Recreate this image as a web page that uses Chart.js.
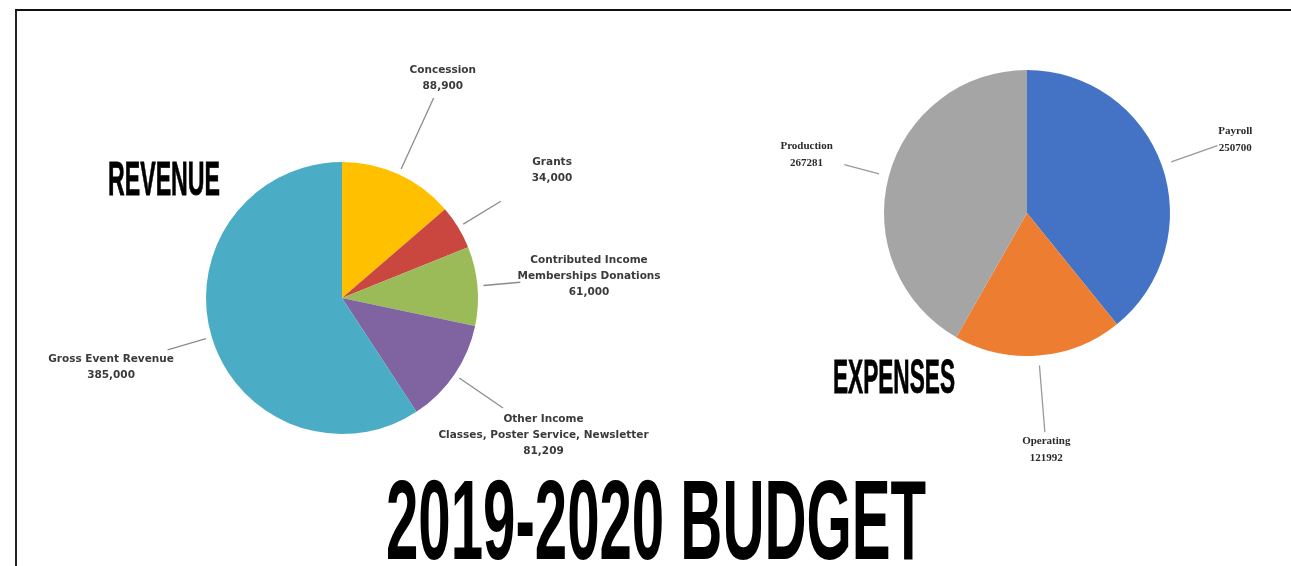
<!DOCTYPE html>
<html>
<head>
<meta charset="utf-8">
<script src="https://cdn.jsdelivr.net/npm/chart.js@4.4.1/dist/chart.umd.min.js"></script>
<style>
  html, body { margin: 0; padding: 0; background: #fff; overflow: hidden; }
  body { width: 1291px; height: 566px; position: relative; }
  .frame { position: absolute; left: 15px; top: 9px; right: 0; bottom: 0;
           border-top: 2px solid #111; border-left: 2px solid #222; }
  .wrap { position: absolute; left: 0; top: 0; width: 1291px; }
  .big { position: absolute; font-family: "Liberation Sans", Arial, sans-serif; font-weight: bold;
         line-height: 1; white-space: nowrap; color: #000; transform-origin: 0 0; z-index: 5; }
  .head { -webkit-text-stroke: 0.8px #000; }
</style>
</head>
<body>
<div class="frame"></div>
<div class="wrap" style="height:566px"><canvas id="revenueChart"></canvas></div>
<div class="wrap" style="height:462px"><canvas id="expenseChart"></canvas></div>

<div class="big head" id="revHead" data-w="112" style="left:108px; top:153.6px; font-size:49px">REVENUE</div>
<div class="big head" id="expHead" data-w="122" style="left:833px; top:351.6px; font-size:49px">EXPENSES</div>
<div class="big" id="title" data-w="540" style="left:386px; top:463px; font-size:114px">2019-2020 BUDGET</div>

<script>
// REVENUE
var revenueLabels = ["Concession", "Grants", "Contributed Income\nMemberships Donations",
                     "Other Income\nClasses, Poster Service, Newsletter", "Gross Event Revenue"];
var revenueValues = [88900, 34000, 61000, 81209, 385000];
var revenueColors = ["#FFC000", "#C9473F", "#9BBB59", "#8064A2", "#4BACC6"];

// EXPENSES
var expenseLabels = ["Payroll", "Operating", "Production"];
var expenseValues = [250700, 121992, 267281];
var expenseColors = ["#4472C4", "#ED7D31", "#A5A5A5"];

Chart.defaults.animation = false;

// labels outside the pie with a short leader line
const outLabels = {
  id: "outLabels",
  afterDraw(chart, args, opts) {
    const ctx = chart.ctx;
    const meta = chart.getDatasetMeta(0);
    const values = chart.data.datasets[0].data;
    ctx.save();
    meta.data.forEach((arc, i) => {
      const p = arc.getProps(["x", "y", "startAngle", "endAngle", "outerRadius"], true);
      const mid = (p.startAngle + p.endAngle) / 2;
      const c = Math.cos(mid), s = Math.sin(mid);
      const r = p.outerRadius;

      ctx.strokeStyle = opts.lineColor;
      ctx.lineWidth = 1.3;
      ctx.beginPath();
      ctx.moveTo(p.x + c * (r + opts.gap), p.y + s * (r + opts.gap));
      ctx.lineTo(p.x + c * (r + opts.leader[i]), p.y + s * (r + opts.leader[i]));
      ctx.stroke();

      const lines = chart.data.labels[i].split("\n");
      lines.push(opts.format(values[i]));
      const d = r + opts.textDist[i];
      const tx = p.x + c * d, ty = p.y + s * d;
      ctx.font = opts.font;
      ctx.fillStyle = opts.color;
      ctx.textAlign = "center";
      ctx.textBaseline = "middle";
      const y0 = ty - (lines.length - 1) * opts.lineHeight / 2;
      lines.forEach((t, k) => ctx.fillText(t, tx, y0 + k * opts.lineHeight));
    });
    ctx.restore();
  }
};

function pieConfig(labels, values, colors, pad, labelOpts) {
  return {
    type: "pie",
    data: {
      labels: labels,
      datasets: [{ data: values, backgroundColor: colors, borderWidth: 0 }]
    },
    options: {
      responsive: true,
      maintainAspectRatio: false,
      layout: { padding: pad },
      plugins: {
        legend: { display: false },
        tooltip: { enabled: false },
        outLabels: labelOpts
      }
    },
    plugins: [outLabels]
  };
}

new Chart(document.getElementById("revenueChart"), pieConfig(
  revenueLabels, revenueValues, revenueColors,
  { left: 206, right: 813, top: 162, bottom: 132 },
  {
    font: "bold 10.5px 'DejaVu Sans', Verdana, sans-serif",
    color: "#3a3a3a", lineColor: "#8c8c8c", lineHeight: 16,
    gap: 6, leader: [84, 50, 43, 59, 46], textDist: [106, 110, 112, 108, 105],
    format: v => v.toLocaleString("en-US")
  }
));

new Chart(document.getElementById("expenseChart"), pieConfig(
  expenseLabels, expenseValues, expenseColors,
  { left: 884, right: 121, top: 70, bottom: 106 },
  {
    font: "bold 11px 'Liberation Serif', 'Times New Roman', serif",
    color: "#2a2a2a", lineColor: "#999999", lineHeight: 17,
    gap: 10, leader: [59, 77, 46], textDist: [78, 94, 85],
    format: v => String(v)
  }
));

// squeeze the headings to the condensed widths
document.querySelectorAll(".big").forEach(el => {
  const w = el.getBoundingClientRect().width;
  el.style.transform = "scaleX(" + (el.dataset.w / w) + ")";
});
</script>
</body>
</html>
